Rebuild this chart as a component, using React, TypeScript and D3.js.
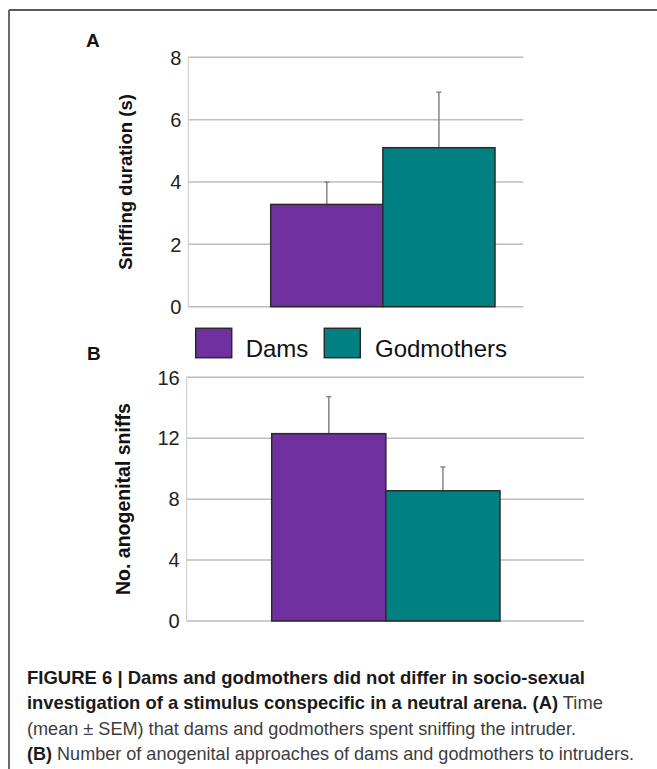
import React from "react";
import * as d3 from "d3";

const categories = ["Dams", "Godmothers"];
const barColors = ["#7030A0", "#008080"];

const sniffDuration = [3.28, 5.1];
const sniffDurationSem = [0.72, 1.78];
const ticksA = [0, 2, 4, 6, 8];

const anogenitalSniffs = [12.3, 8.55];
const anogenitalSniffsSem = [2.43, 1.56];
const ticksB = [0, 4, 8, 12, 16];

const captionLines: { text: string; bold: boolean }[][] = [
  [{ text: "FIGURE 6 | Dams and godmothers did not differ in socio-sexual", bold: true }],
  [
    { text: "investigation of a stimulus conspecific in a neutral arena. (A)", bold: true },
    { text: " Time", bold: false },
  ],
  [{ text: "(mean \u00B1 SEM) that dams and godmothers spent sniffing the intruder.", bold: false }],
  [
    { text: "(B)", bold: true },
    { text: " Number of anogenital approaches of dams and godmothers to intruders.", bold: false },
  ],
];
const captionWidths = [558, 576, 549, 607];

const FONT = "Liberation Sans, Arial, Helvetica, sans-serif";

type PanelProps = {
  letter: string;
  letterX: number;
  letterY: number;
  values: number[];
  sems: number[];
  ticks: number[];
  yLabel: string;
  yLabelX: number;
  yLabelSize: number;
  plotLeft: number;
  plotRight: number;
  top: number;
  bottom: number;
  barLeft: number;
  barRight: number;
};

function Panel(p: PanelProps) {
  const y = d3
    .scaleLinear()
    .domain([0, d3.max(p.ticks) as number])
    .range([p.bottom, p.top]);
  const x = d3.scaleBand<string>().domain(categories).range([p.barLeft, p.barRight]).padding(0);
  const capW = 5;
  return (
    <g>
      <text x={p.letterX} y={p.letterY} fontFamily={FONT} fontWeight="bold" fontSize={19} fill="#111">
        {p.letter}
      </text>
      {p.ticks.map((t) => (
        <g key={t}>
          <line x1={p.plotLeft} x2={p.plotRight} y1={y(t)} y2={y(t)} stroke="#bdbdbd" strokeWidth={1.5} />
          <text
            x={p.plotLeft - 7}
            y={y(t)}
            dy="0.36em"
            textAnchor="end"
            fontFamily={FONT}
            fontSize={20}
            fill="#222"
          >
            {t}
          </text>
        </g>
      ))}
      <line x1={p.plotLeft} x2={p.plotLeft} y1={p.top} y2={p.bottom} stroke="#c8c8c8" strokeWidth={1} />
      <text
        transform={`translate(${p.yLabelX},${(p.top + p.bottom) / 2}) rotate(-90)`}
        textAnchor="middle"
        dy="0.36em"
        fontFamily={FONT}
        fontWeight="bold"
        fontSize={p.yLabelSize}
        fill="#111"
      >
        {p.yLabel}
      </text>
      {categories.map((c, i) => {
        const x0 = x(c) as number;
        const w = x.bandwidth();
        const cx = x0 + w / 2;
        return (
          <g key={c}>
            <line x1={cx} x2={cx} y1={y(p.values[i])} y2={y(p.values[i] + p.sems[i])} stroke="#858585" strokeWidth={1.5} />
            <line
              x1={cx - capW / 2}
              x2={cx + capW / 2}
              y1={y(p.values[i] + p.sems[i])}
              y2={y(p.values[i] + p.sems[i])}
              stroke="#858585"
              strokeWidth={1.5}
            />
            <rect
              x={x0}
              y={y(p.values[i])}
              width={w}
              height={y(0) - y(p.values[i])}
              fill={barColors[i]}
              stroke="#2a2a2a"
              strokeWidth={1.5}
            />
          </g>
        );
      })}
    </g>
  );
}

export default function App() {
  const W = 657;
  const H = 769;
  return (
    <svg
      width={W}
      height={H}
      style={{ position: "absolute", left: 0, top: 0, display: "block", background: "#fff" }}
    >
      <rect x={0} y={0} width={W} height={H} fill="#fff" />
      <line x1={9} x2={W} y1={10} y2={10} stroke="#5a5a5a" strokeWidth={1.8} />
      <line x1={9} x2={9} y1={10} y2={H} stroke="#5a5a5a" strokeWidth={1.8} />

      <Panel
        letter="A"
        letterX={86}
        letterY={47}
        values={sniffDuration}
        sems={sniffDurationSem}
        ticks={ticksA}
        yLabel="Sniffing duration (s)"
        yLabelX={125}
        yLabelSize={18.5}
        plotLeft={188.3}
        plotRight={523.3}
        top={57.3}
        bottom={306.7}
        barLeft={270.7}
        barRight={495}
      />
      <Panel
        letter="B"
        letterX={87}
        letterY={360}
        values={anogenitalSniffs}
        sems={anogenitalSniffsSem}
        ticks={ticksB}
        yLabel="No. anogenital sniffs"
        yLabelX={123}
        yLabelSize={19.5}
        plotLeft={186.7}
        plotRight={584}
        top={377.3}
        bottom={621}
        barLeft={271.7}
        barRight={500}
      />

      {/* legend */}
      <g>
        {categories.map((c, i) => {
          const lx = [195.7, 324.3][i];
          const tx = [245.7, 375][i];
          return (
            <g key={c}>
              <rect x={lx} y={328.3} width={36} height={29.4} fill={barColors[i]} stroke="#2a2a2a" strokeWidth={1.5} />
              <text x={tx} y={357} fontFamily={FONT} fontSize={24} fill="#111">
                {c}
              </text>
            </g>
          );
        })}
      </g>

      {/* caption */}
      {captionLines.map((line, li) => (
        <text
          key={li}
          x={27}
          y={683.5 + li * 25.6}
          fontFamily={FONT}
          fontSize={18.5}
          textLength={captionWidths[li]}
          lengthAdjust="spacingAndGlyphs"
        >
          {line.map((s, si) => (
            <tspan key={si} fontWeight={s.bold ? "bold" : "normal"} fill={s.bold ? "#1a1a1a" : "#3d3d3d"}>
              {s.text}
            </tspan>
          ))}
        </text>
      ))}
    </svg>
  );
}
